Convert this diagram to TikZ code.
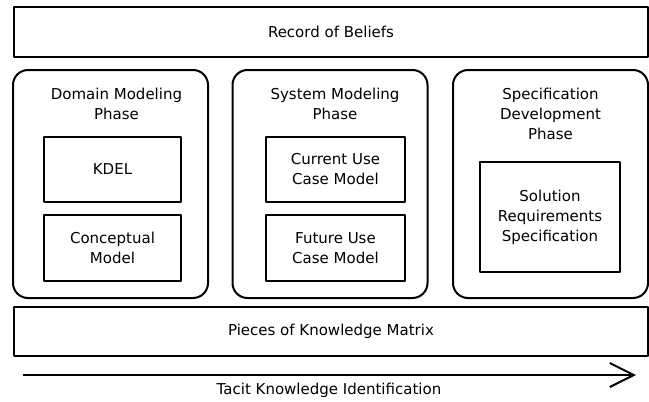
\documentclass[tikz,border=0pt]{standalone}
\usepackage{fontspec}
\setmainfont{DejaVu Sans}
\usetikzlibrary{arrows.meta,positioning}

\tikzset{
  layer/.style={draw, line width=2pt, minimum width=634pt, minimum height=50pt, inner sep=0pt},
  phase/.style={draw, line width=2pt, rounded corners=15pt, minimum width=195pt, minimum height=228pt, inner sep=0pt},
  artefact/.style={draw, line width=2pt, align=center, minimum width=137pt, minimum height=65pt, inner sep=0pt},
  phasetitle/.style={align=center, anchor=north}
}

\begin{document}
\begin{tikzpicture}[x=1pt, y=-1pt, font=\fontsize{15}{20}\selectfont, line join=round]
  \useasboundingbox (0,0) rectangle (649,402);
  % outer layers
  \node[layer] (beliefs) at (331,32) {Record of Beliefs};
  \node[layer, minimum height=49pt] (matrix) at (331,331.5) {Pieces of Knowledge Matrix};
  % the three phases
  \node[phase] (domain) at (110.5,184) {};
  \node[phase] (system) at (330,184) {};
  \node[phase] (spec) at (550.5,184) {};
  \node[phasetitle] (domainT) at ([xshift=6pt,yshift=-16pt]domain.north) {Domain Modeling\\Phase};
  \node[phasetitle] (systemT) at ([xshift=5pt,yshift=-16pt]system.north) {System Modeling\\Phase};
  \node[phasetitle] (specT) at ([yshift=-16pt]spec.north) {Specification\\Development\\Phase};
  % artefacts of each phase
  \node[artefact] (kdel) at (112.5,169.5) {KDEL};
  \node[artefact, minimum height=66pt] (concept) at (112.5,248) {Conceptual\\Model};
  \node[artefact, minimum width=139pt] (current) at (335.5,169.5) {Current Use\\Case Model};
  \node[artefact, minimum width=139pt, minimum height=66pt] (future) at (335.5,248) {Future Use\\Case Model};
  \node[artefact, minimum width=140pt, minimum height=110pt] (solution) at (550,217) {Solution\\Requirements\\Specification};
  % identification arrow
  \coordinate (tkStart) at (23,375);
  \coordinate (tkEnd) at (636,375);
  \draw[line width=2pt, -{Straight Barb[length=24pt,width=24pt,line width=2pt]}] (tkStart) -- (tkEnd);
  \node (tki) at (329,390) {Tacit Knowledge Identification};
\end{tikzpicture}
\end{document}
